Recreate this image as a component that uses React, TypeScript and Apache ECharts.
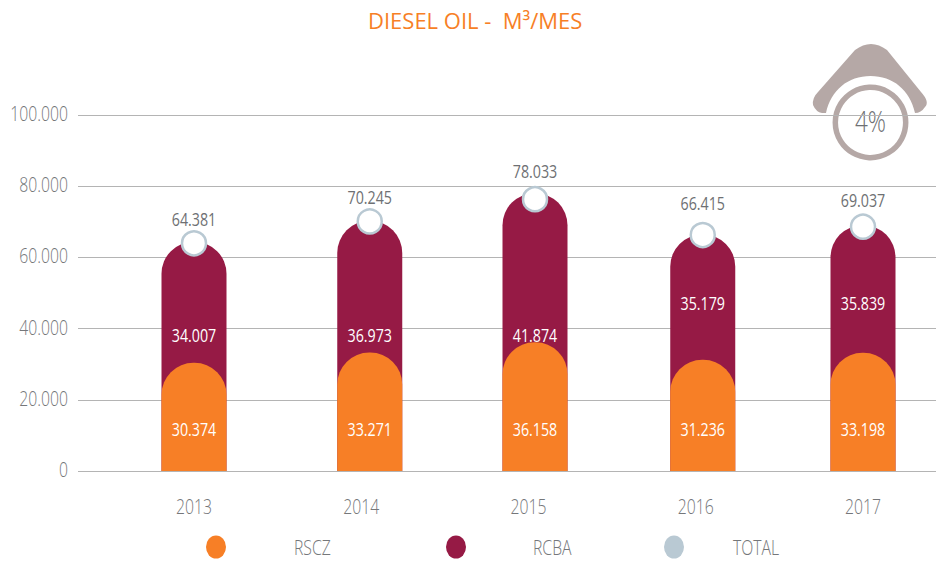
import React, { useEffect, useRef } from "react";
import * as echarts from "echarts";

const years = ["2013", "2014", "2015", "2016", "2017"];
const rscz = [30374, 33271, 36158, 31236, 33198];
const rcba = [34007, 36973, 41874, 35179, 35839];
const total = [64381, 70245, 78033, 66415, 69037];
const yTicks = [0, 20000, 40000, 60000, 80000, 100000];

// purely presentational pixel tweaks of the source artwork
const barShift = [0, 8.5, 6.5, 7, 0];
const rcbaLabelY = [335, 335, 335, 302.5, 302.5];
const totalCircleDy = [1.5, 0.5, 6, 0.5, 1.5];
const totalLabelY = [218.5, 196.5, 170.5, 203, 199.5];
const rsczLabelY = 429;

const FONT = '"Open Sans", sans-serif';
const GREY = "#6e7073";
const AXIS_GREY = "#75777a";
const ORANGE = "#f77f26";
const MAROON = "#961a45";
const BLUEGREY = "#b9c9d3";
const BROWN = "#b5a8a6";
const BAR_W = 65;
const CONDENSE = 0.75;

const fmt = (v: number) =>
  String(v).replace(/\B(?=(\d{3})+(?!\d))/g, ".");

const ROOF =
  "M855,50 Q871,38 887,50 L921,92 Q930,102 925,107 Q921,113 915,113 " +
  "C910,90 893,76 870.5,76 C848,76 831,90 826,113 L822,113 Q816,112 813,105 Q812,98 818,92 Z";

echarts.graphic.registerShape("roof", echarts.graphic.extendPath(ROOF, {}) as any);

const ELLIPSE_ICON = "path://M50,0A50,50 0 1,1 50,100A50,50 0 1,1 50,0Z";

function barSeries(name: string, color: string, values: number[], labels: number[], labelY: (i: number) => number) {
  return {
    type: "custom",
    name,
    xAxisIndex: 1,
    yAxisIndex: 1,
    itemStyle: { color },
    data: values.map((v, i) => [i, v]),
    renderItem: (params: any, api: any) => {
      const i = params.dataIndex;
      const top = api.coord([i, api.value(1)]);
      const base = api.coord([i, 0]);
      const cx = top[0] + barShift[i];
      return {
        type: "group",
        children: [
          {
            type: "rect",
            shape: {
              x: cx - BAR_W / 2,
              y: top[1],
              width: BAR_W,
              height: base[1] - top[1],
              r: [32, 32, 0, 0],
            },
            style: { fill: color },
          },
          {
            type: "text",
            style: {
              x: cx,
              y: labelY(i),
              text: fmt(labels[i]),
              fill: "#ffffff",
              font: `19px ${FONT}`,
              align: "center",
              verticalAlign: "middle",
            },
          },
        ],
      };
    },
  };
}

export default function App() {
  const ref = useRef<HTMLDivElement>(null);
  useEffect(() => {
    const chart = echarts.init(ref.current!, undefined, { renderer: "svg" });
    const legendBase = {
      top: 535.5,
      icon: ELLIPSE_ICON,
      symbolKeepAspect: false,
      itemWidth: 20,
      itemHeight: 23,
      selectedMode: false,
      padding: 0,
      textStyle: { color: AXIS_GREY, fontSize: 21, fontWeight: 300, fontFamily: FONT },
    };
    chart.setOption({
      animation: false,
      backgroundColor: "#ffffff",
      title: {
        text: "DIESEL OIL -  M³/MES",
        left: 368,
        top: 9,
        padding: 0,
        textStyle: { color: ORANGE, fontSize: 22, fontWeight: "normal", fontFamily: FONT },
      },
      grid: [
        { left: 78, right: 0, top: 115, height: 356, outerBoundsMode: "none" },
        { left: 194, width: 669, top: 115, height: 356, outerBoundsMode: "none" },
      ],
      xAxis: [
        { type: "category", gridIndex: 0, data: years, show: false },
        {
          type: "category",
          gridIndex: 1,
          data: years,
          boundaryGap: false,
          axisLine: { show: false },
          axisTick: { show: false },
          axisLabel: { color: AXIS_GREY, fontSize: 21, fontWeight: 300, fontFamily: FONT, margin: 24 },
        },
      ],
      yAxis: [
        {
          type: "value",
          gridIndex: 0,
          min: 0,
          max: 100000,
          interval: 20000,
          axisLine: { show: false },
          axisTick: { show: false },
          splitLine: { lineStyle: { color: "#b4b4b4", width: 1 } },
          axisLabel: {
            color: AXIS_GREY,
            fontSize: 21,
            fontWeight: 300,
            fontFamily: FONT,
            margin: 10,
            verticalAlign: "bottom",
            lineHeight: 4,
            formatter: (v: number) => (yTicks.includes(v) ? fmt(v) : ""),
          },
        },
        { type: "value", gridIndex: 1, min: 0, max: 100000, interval: 20000, show: false },
      ],
      legend: [
        { ...legendBase, left: 206, data: [{ name: "RSCZ" }], textStyle: { ...legendBase.textStyle, padding: [0, 0, 0, 63] } },
        { ...legendBase, left: 446, data: [{ name: "RCBA" }], textStyle: { ...legendBase.textStyle, padding: [0, 0, 0, 62] } },
        { ...legendBase, left: 664, data: [{ name: "TOTAL" }], textStyle: { ...legendBase.textStyle, padding: [0, 0, 0, 44] } },
      ],
      series: [
        barSeries("RCBA", MAROON, total, rcba, (i) => rcbaLabelY[i]),
        barSeries("RSCZ", ORANGE, rscz, rscz, () => rsczLabelY),
        {
          type: "custom",
          name: "TOTAL",
          xAxisIndex: 1,
          yAxisIndex: 1,
          itemStyle: { color: BLUEGREY },
          data: total.map((v, i) => [i, v]),
          renderItem: (params: any, api: any) => {
            const i = params.dataIndex;
            const p = api.coord([i, api.value(1)]);
            const cx = p[0] + barShift[i];
            return {
              type: "group",
              children: [
                {
                  type: "circle",
                  shape: { cx, cy: p[1] + totalCircleDy[i], r: 12 },
                  style: { fill: "#ffffff", stroke: BLUEGREY, lineWidth: 2.5 },
                },
                {
                  type: "text",
                  style: {
                    x: cx,
                    y: totalLabelY[i],
                    text: fmt(total[i]),
                    fill: GREY,
                    font: `19px ${FONT}`,
                    align: "center",
                    verticalAlign: "middle",
                  },
                },
              ],
            };
          },
        },
      ],
      graphic: [
        {
          type: "group",
          children: [
            { type: "roof", x: 0, y: 0, style: { fill: BROWN } },
            {
              type: "circle",
              shape: { cx: 870.5, cy: 122.5, r: 35.2 },
              style: { fill: "#ffffff", stroke: BROWN, lineWidth: 5.5 },
            },
            {
              type: "text",
              style: {
                x: 870.5,
                y: 120.5,
                text: "4%",
                fill: GREY,
                font: `300 30px ${FONT}`,
                align: "center",
                verticalAlign: "middle",
              },
            },
          ],
        },
      ],
    });
    // The source type is a condensed face: narrow every label except the title.
    ref.current!.querySelectorAll("text").forEach((t: any) => {
      if (t.textContent && t.textContent.includes("DIESEL")) return;
      const w = t.getComputedTextLength();
      if (w > 0) {
        t.setAttribute("textLength", String(w * CONDENSE));
        t.setAttribute("lengthAdjust", "spacingAndGlyphs");
      }
    });
    return () => chart.dispose();
  }, []);
  return (
    <div
      ref={ref}
      style={{ width: 936, height: 562, position: "fixed", left: 0, top: 0 }}
    />
  );
}
